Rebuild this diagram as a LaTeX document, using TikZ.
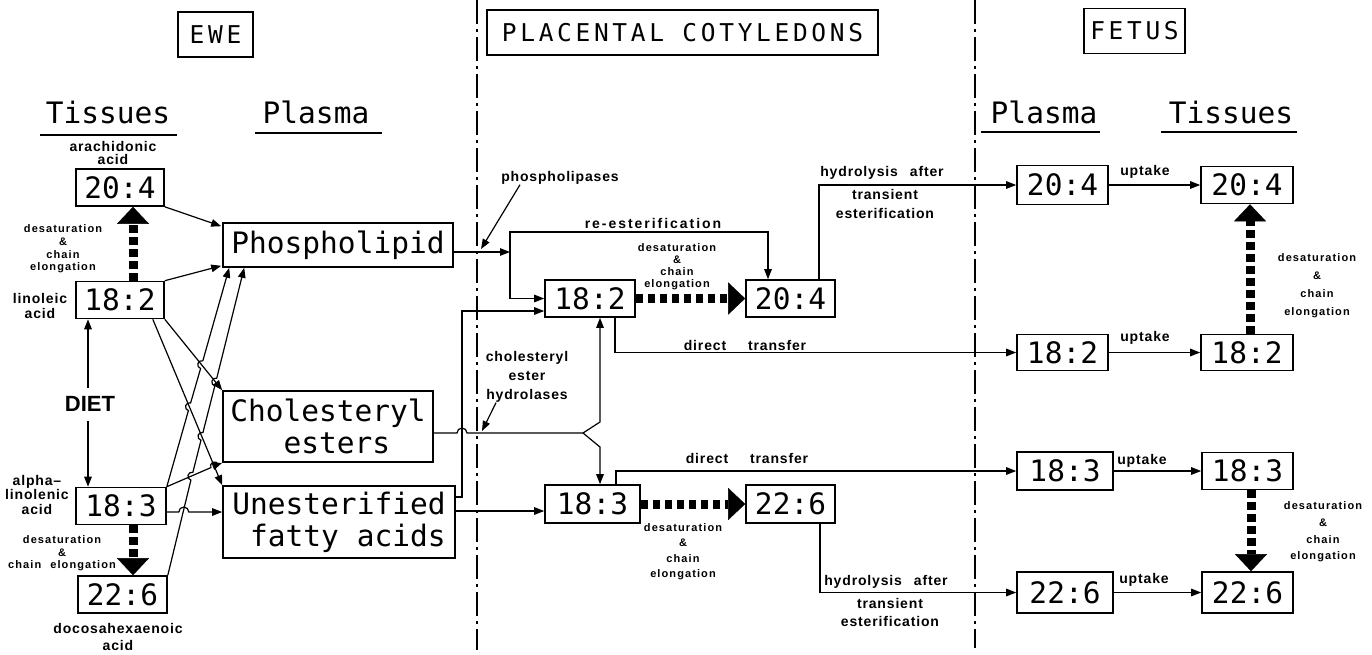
\documentclass[tikz,border=0pt]{standalone}
\usepackage{fontspec}
\usetikzlibrary{arrows.meta}
\newfontfamily\bigmono{DejaVu Sans Mono}
\newfontfamily\headmono[LetterSpace=15]{DejaVu Sans Mono}
\newfontfamily\labfont[LetterSpace=6]{Liberation Sans}
\newfontfamily\desfont[LetterSpace=10]{Liberation Sans}
\newfontfamily\dietfont{Liberation Sans}

\tikzset{
  bigbox/.style={draw, line width=1.6pt, inner sep=0pt, font=\bigmono\fontsize{29.5}{32}\selectfont},
  numbox/.style={bigbox, minimum width=88pt, minimum height=37pt},
  hdbox/.style={draw, line width=1.5pt, inner sep=0pt, minimum height=45pt, font=\headmono\fontsize{24.5}{26}\selectfont},
  ttl/.style={inner sep=0pt, font=\bigmono\fontsize{29.5}{32}\selectfont},
  lab/.style={inner sep=0pt, align=center, font=\labfont\bfseries\fontsize{14}{#1}\selectfont},
  lab/.default=14,
  des/.style={inner sep=0pt, align=center, font=\desfont\bfseries\fontsize{11}{#1}\selectfont},
  des/.default=12.5,
  arr/.style={line width=1.2pt, -{Triangle[length=10pt,width=7.5pt]}},
  darr/.style={line width=1.2pt, {Triangle[length=10pt,width=7.5pt]}-{Triangle[length=10pt,width=7.5pt]}},
  ln/.style={line width=1.2pt},
  thk/.style={line width=9pt, dash pattern=on 7.5pt off 4.5pt, -{Triangle[length=17pt,width=32pt,line width=0.4pt]}},
  sep/.style={line width=1.2pt, dash pattern=on 24pt off 5pt on 3pt off 5pt},
  uline/.style={line width=1.5pt}
}

\begin{document}
\begin{tikzpicture}[x=1pt,y=-1pt]
\useasboundingbox (0,0) rectangle (1372,654);
\fill[white] (0,0) rectangle (1372,654);

% compartment separators
\draw[sep] (477,0) -- (477,650);
\draw[sep] (975,0) -- (975,648);

% compartment headings
\node[hdbox, minimum width=75pt]  (ewe)   at (215.5,34.5) {EWE};
\node[hdbox, minimum width=391pt] (plac)  at (682.5,32.5) {PLACENTAL COTYLEDONS};
\node[hdbox, minimum width=101pt] (fetus) at (1134.5,31) {FETUS};

\node[ttl] (tis1) at (108,112) {Tissues};
\node[ttl] (pla1) at (316,112) {Plasma};
\node[ttl] (pla2) at (1044,112) {Plasma};
\node[ttl] (tis2) at (1231,112) {Tissues};
\draw[uline] (40,135) -- (177,135);
\draw[uline] (255,133) -- (382,133);
\draw[uline] (981,132) -- (1100,132);
\draw[uline] (1161,132) -- (1297,132);

% ewe tissues
\node[numbox] (e204) at (120,187.5) {20:4};
\node[numbox] (e182) at (120,300) {18:2};
\node[numbox, minimum width=90pt] (e183) at (121,506) {18:3};
\node[numbox, minimum width=89pt] (e226) at (122.5,594.5) {22:6};

\node[lab=13] (arach) at (113,152.5) {arachidonic\\acid};
\node[lab=15] (lino) at (40,305.5) {linoleic\\acid};
\node[lab=14.5] (alpha) at (37,494.5) {alpha–\\linolenic\\acid};
\node[lab=17] (docosa) at (118,636.5) {docosahexaenoic\\acid};
\node[des=12.7] (des1) at (63,249) {desaturation\\\&\\chain\\elongation};
\node[des=12.5] (des2) at (62,553.5) {desaturation\\\&\\chain\hspace{9pt}elongation};

% ewe plasma
\node[bigbox, minimum width=230pt, minimum height=44pt] (phos) at (338,245) {Phospholipid};
\node[bigbox, minimum width=210pt, minimum height=71pt, align=left] (chol) at (328,426.5) {Cholesteryl\\\phantom{xxx}esters};
\node[bigbox, minimum width=232pt, minimum height=72pt, align=right] (unest) at (339,522) {Unesterified\\fatty acids};

% placental cotyledons
\node[numbox, minimum width=90pt] (p182) at (590,298.5) {18:2};
\node[numbox, minimum width=89pt] (p204) at (790.5,298.5) {20:4};
\node[numbox, minimum width=95pt, minimum height=38pt] (p183) at (592.5,504) {18:3};
\node[numbox, minimum width=89pt, minimum height=38pt] (p226) at (790.5,504) {22:6};

\node[lab] (phl) at (560,178) {phospholipases};
\node[lab] (reest) at (653,223) {\addfontfeature{LetterSpace=14}re-esterification};
\node[des=12] (des3) at (677,267) {desaturation\\\&\\chain\\elongation};
\node[lab] (dt1) at (745,345) {direct\hspace{22pt}transfer};
\node[lab=19] (hyd) at (527,377) {cholesteryl\\ester\\hydrolases};
\node[des=15.5] (des4) at (683,551.5) {desaturation\\\&\\chain\\elongation};
\node[lab] (dt2) at (747,458) {direct\hspace{22pt}transfer};
\node[lab] (hy1) at (882,173) {hydrolysis\hspace{12pt}after};
\node[lab=19] (tr1) at (885,204) {transient\\esterification};
\node[lab] (hy2) at (886,582) {hydrolysis\hspace{12pt}after};
\node[lab=18] (tr2) at (890,612) {transient\\esterification};

% fetus
\node[numbox, minimum width=91pt, minimum height=39pt] (fp204) at (1062.5,185) {20:4};
\node[numbox, minimum width=92pt] (ft204) at (1247,185) {20:4};
\node[numbox, minimum width=91pt, minimum height=36pt] (fp182) at (1062.5,352.5) {18:2};
\node[numbox, minimum width=92pt, minimum height=36pt] (ft182) at (1247,352.5) {18:2};
\node[numbox, minimum width=96pt, minimum height=38pt] (fp183) at (1065,471) {18:3};
\node[numbox, minimum width=91pt] (ft183) at (1247.5,471) {18:3};
\node[numbox, minimum width=96pt, minimum height=41pt] (fp226) at (1065,592.5) {22:6};
\node[numbox, minimum width=91pt, minimum height=41pt] (ft226) at (1247.5,592.5) {22:6};

\node[lab] (up1) at (1145,172) {uptake};
\node[lab] (up2) at (1145,338) {uptake};
\node[lab] (up3) at (1142,461) {uptake};
\node[lab] (up4) at (1144,580) {uptake};
\node[des=18] (des5) at (1317,286) {desaturation\\\&\\chain\\elongation};
\node[des=16.7] (des6) at (1323,532) {desaturation\\\&\\chain\\elongation};

% ---- ewe: tissues to plasma (small hops where lines cross)
\draw[arr] (e204.south east) -- ([shift={(-1,4)}]phos.north west);
\draw[arr] (e182.north east) -- ([shift={(-1,-2)}]phos.south west);
\draw[arr] (e182.south east) -- (chol.north west);
\draw[arr] ([xshift=-12]e182.south east) -- (unest.north west);
\draw[arr] (e183.north east) -- (210.9,467.6)
  arc[start angle=155.48,end angle=335.48,radius=4] -- (chol.south west);
\draw[arr] (e183.north east) -- (188.4,410.6)
  arc[start angle=106.15,end angle=286.15,radius=4] -- (200.6,368.5)
  arc[start angle=106.15,end angle=286.15,radius=4] -- ([xshift=7]phos.south west);
\draw[arr] (e226.north east) -- (190.9,480.1)
  arc[start angle=104.26,end angle=284.26,radius=4] -- (201.0,440.2)
  arc[start angle=104.26,end angle=284.26,radius=4] -- (214.8,385.9)
  arc[start angle=104.26,end angle=284.26,radius=4] -- ([xshift=22]phos.south west);
\coordinate (s7) at ([shift={(0,6)}]e183.east);
\draw[arr] (s7) -- ++(12,0) arc[start angle=180,end angle=360,radius=5] -- (s7 -| unest.west);

% diet
\draw[darr] ([xshift=-32]e182.south) -- ([xshift=-33]e183.north);
\node[fill=white, inner sep=0pt, minimum width=58pt, minimum height=33pt, font=\dietfont\bfseries\fontsize{22}{24}\selectfont] (diet) at (90,404) {DIET};

% ewe conversions
\draw[thk] ([xshift=13]e182.north) -- ([xshift=13]e204.south);
\draw[thk] ([xshift=12]e183.south) -- ([xshift=10.5]e226.north);

% ---- plasma to placenta
\coordinate (p0) at ([shift={(0,7)}]phos.east);
\coordinate (pj) at (510,252);
\draw[arr] (p0) -- (pj);
\draw[arr] (pj) -- ++(0,-20) -| ([xshift=-22.5]p204.north);
\draw[arr] (pj) |- (p182.west);
\coordinate (phx) at (481,249);
\draw[arr] ([xshift=-40]phl.south) -- (phx);

\coordinate (ch0) at ([shift={(0,6.5)}]chol.east);
\coordinate (cs) at (583,433);
\draw[ln] (ch0) -- (457,433) arc[start angle=180,end angle=360,radius=5] -- (cs);
\draw[arr] (cs) -- ++(17,-11) -- ([xshift=10]p182.south);
\draw[arr] (cs) -- ++(17,14) -- ([xshift=7.5]p183.north);
\coordinate (hyx) at (482,431);
\draw[arr] ([xshift=-31]hyd.south) -- (hyx);

\coordinate (ua) at ([shift={(0,-25)}]unest.east);
\coordinate (ub) at (462,311);
\draw[arr] (ua) -| (ub) -- (ub -| p182.west);
\coordinate (uc) at ([shift={(0,-11)}]unest.east);
\draw[arr] (uc) -- (uc -| p183.west);

% placental conversions
\draw[thk] (p182.east) -- (p204.west);
\draw[thk] (p183.east) -- (p226.west);

% ---- placenta to fetus
\draw[arr] ([xshift=28.5]p204.north) |- (fp204.west);
\draw[arr] ([xshift=25]p182.south) |- (fp182.west);
\draw[arr] ([xshift=23.5]p183.north) |- (fp183.west);
\draw[arr] ([xshift=29.5]p226.south) |- (fp226.west);

% fetal uptake
\draw[arr] (fp204.east) -- (ft204.west);
\draw[arr] (fp182.east) -- (ft182.west);
\draw[arr] (fp183.east) -- (ft183.west);
\draw[arr] (fp226.east) -- (ft226.west);

% fetal conversions
\draw[thk] ([xshift=3]ft182.north) -- ([xshift=3]ft204.south);
\draw[thk] ([xshift=3.5]ft183.south) -- ([xshift=3.5]ft226.north);
\end{tikzpicture}
\end{document}
